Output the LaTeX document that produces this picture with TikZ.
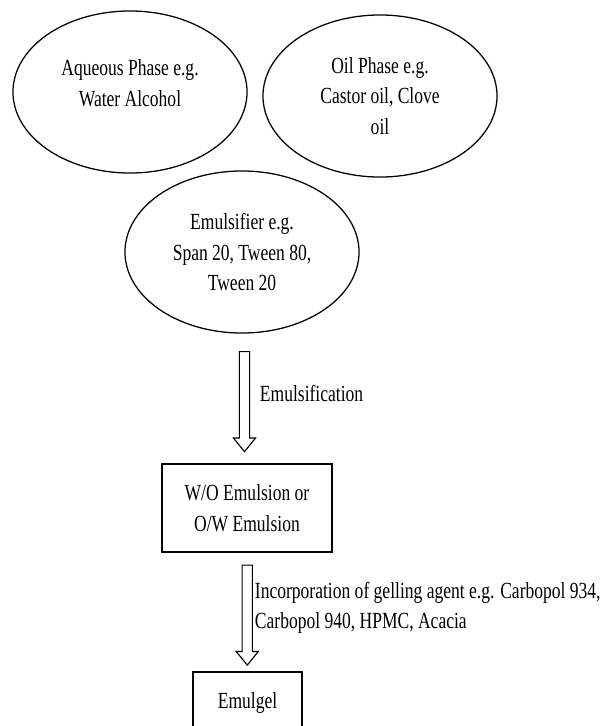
\documentclass[tikz,border=0pt]{standalone}
\usepackage{fontspec}
\setmainfont{Liberation Serif}[FakeStretch=0.76]
\usetikzlibrary{calc,shapes.geometric,shapes.arrows}
\tikzset{
	phase/.style={draw, ellipse, line width=0.9pt, minimum width=5.85cm, minimum height=4.05cm, align=center, font=\fontsize{16.4}{21.7}\selectfont},
	stage/.style={draw, rectangle, line width=0.9pt, align=center, font=\fontsize{16.4}{21.7}\selectfont},
	note/.style={align=left, font=\fontsize{16.4}{21.7}\selectfont},
	flowarrow/.style={draw, single arrow, shape border rotate=270, line width=0.8pt, inner sep=0.1125cm, minimum width=0.525cm, minimum height=2.5cm, single arrow head extend=0.15cm, single arrow tip angle=78}
}

\begin{document}
\begin{tikzpicture}[x=0.025cm, y=-0.025cm]
			%%%%% START %%%%%
			\useasboundingbox (0, 0) rectangle (611, 726);
			
			\node[phase] (aqueous) at (130, 92) {};
			\node[note, align=center] (aqueoustext) at (130, 83) {Aqueous Phase e.g.\\Water Alcohol};
			\node[phase] (oil) at (380, 96) {Oil Phase e.g.\\Castor oil, Clove\\oil};
			\node[phase] (emulsifier) at (242, 252) {Emulsifier e.g.\\Span 20, Tween 80,\\Tween 20};
			
			\node[stage, minimum width=4.25cm, minimum height=2.2cm] (emulsion) at (247, 508) {W/O Emulsion or\\O/W Emulsion};
			\node[stage, minimum width=2.725cm, minimum height=1.55cm] (emulgel) at (247.5, 703) {Emulgel};
			
			\node[flowarrow] (arrowone) at ($(emulsifier.south)!0.5!(emulsion.north)$) {};
			\node[note, anchor=west] (emulsification) at (255, 393) {Emulsification};
			
			\node[flowarrow] (arrowtwo) at ($(emulsion.south)!0.5!(emulgel.north)$) {};
			\node[note, anchor=west] (gelling) at (250, 608) {Incorporation of gelling agent e.g. Carbopol 934,\\Carbopol 940, HPMC, Acacia};
			
			%%%%% END %%%%%
		\end{tikzpicture}
\end{document}
